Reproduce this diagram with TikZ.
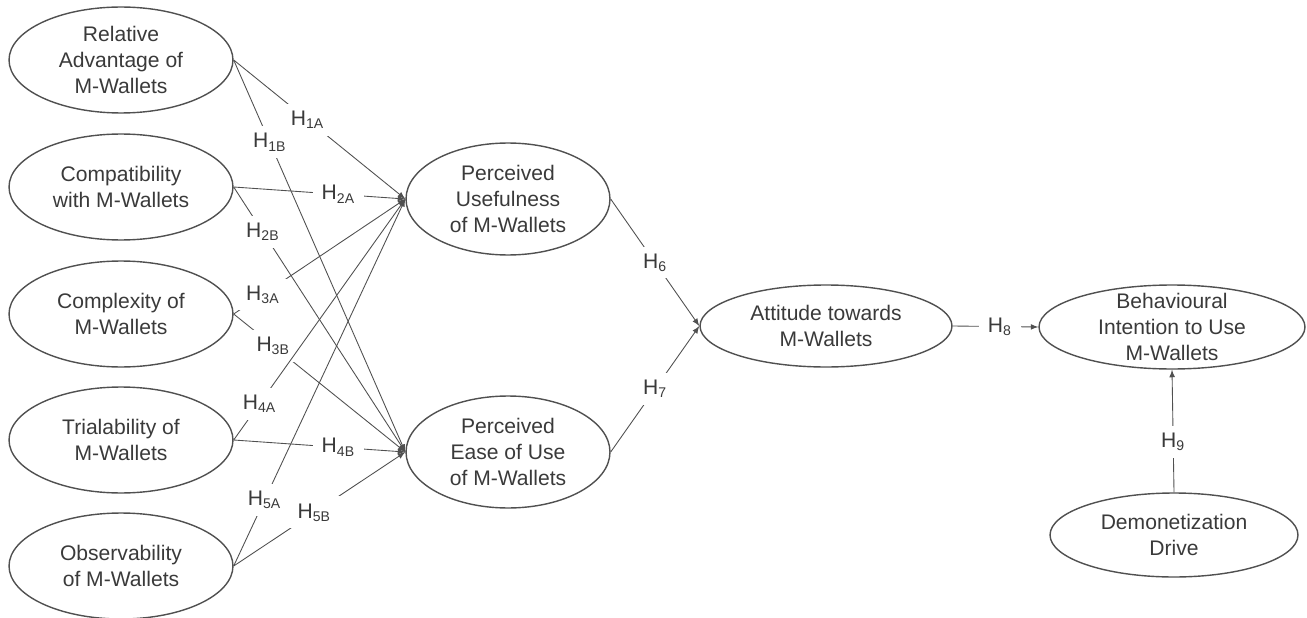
\documentclass[tikz,border=0pt]{standalone}
\usepackage{fontspec}
\setmainfont{Liberation Sans}
\usepackage{tikz}
\usetikzlibrary{shapes.geometric}
\usetikzlibrary{arrows}

\definecolor{textgray}{RGB}{58,58,58}
\definecolor{linegray}{RGB}{80,80,80}

\tikzset{
    construct/.style={ellipse, draw=linegray, line width=0.8pt, text=textgray, align=center, inner sep=-6pt, font=\fontsize{12}{15}\selectfont},
    leftc/.style={construct, minimum width=4.48cm, minimum height=2.12cm},
    midc/.style={construct, minimum width=4.08cm, minimum height=2.24cm},
    hyp/.style={fill=white, text=textgray, inner xsep=5pt, inner ysep=4pt, font=\fontsize{12}{15}\selectfont},
    link/.style={draw=linegray, line width=0.5pt, -latex}
}

\begin{document}
\begin{tikzpicture}[x=0.02cm, y=-0.02cm]
    \useasboundingbox (0,0) rectangle (1307,618); % page size in px

    % left column
    \node[leftc] (ra) at (121,60) {Relative\\Advantage of\\M-Wallets};
    \node[leftc] (cw) at (121,187) {Compatibility\\with M-Wallets};
    \node[leftc] (cx) at (121,314) {Complexity of\\M-Wallets};
    \node[leftc] (tr) at (121,440) {Trialability of\\M-Wallets};
    \node[leftc] (ob) at (121,566) {Observability\\of M-Wallets};

    % middle column
    \node[midc] (pu) at (508,199) {Perceived\\Usefulness\\of M-Wallets};
    \node[midc] (peu) at (508,452) {Perceived\\Ease of Use\\of M-Wallets};

    % right part
    \node[construct, minimum width=5.04cm, minimum height=1.64cm] (att) at (826,326) {Attitude towards\\M-Wallets};
    \node[construct, minimum width=5.32cm, minimum height=1.68cm] (bi) at (1172,327) {Behavioural\\Intention to Use\\M-Wallets};
    \node[construct, minimum width=4.96cm, minimum height=1.68cm] (dd) at (1174,535) {Demonetization\\Drive};

    % edit here for the hypotheses
    \foreach \from/\to/\h/\p in {ra/pu/1A/0.43, ra/peu/1B/0.21, cw/pu/2A/0.61, cw/peu/2B/0.17,
        cx/pu/3A/0.17, cx/peu/3B/0.23, tr/pu/4A/0.15, tr/peu/4B/0.61, ob/pu/5A/0.18, ob/peu/5B/0.47}
    \draw[link] (\from.east) -- node[hyp, pos=\p] {H\textsubscript{\h}} (\to.west);

    \draw[link] (pu.east) -- node[hyp, pos=0.5] {H\textsubscript{6}} (att.west);
    \draw[link] (peu.east) -- node[hyp, pos=0.5] {H\textsubscript{7}} (att.west);
    \draw[link] (att.east) -- node[hyp, pos=0.55] {H\textsubscript{8}} (bi.west);
    \draw[link] (dd.north) -- node[hyp, pos=0.41] {H\textsubscript{9}} (bi.south);
\end{tikzpicture}
\end{document}
